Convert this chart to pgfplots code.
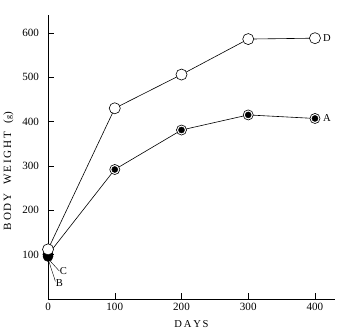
\documentclass[border=0pt]{standalone}
\usepackage{pgfplots}
\pgfplotsset{compat=1.18}
\usepackage{fontspec}
\setmainfont{Liberation Serif}
\begin{document}
\begin{tikzpicture}
\begin{axis}[
  scale only axis,
  width=285pt, height=282pt,
  xmin=0, xmax=430, ymin=0, ymax=640,
  axis x line*=bottom, axis y line*=left,
  xtick={0,100,200,300,400},
  ytick={100,200,300,400,500,600},
  tick align=inside,
  major tick length=6pt,
  tick style={black, line width=0.5pt},
  axis line style={line width=0.7pt},
  ticklabel style={font=\fontsize{11}{12}\selectfont},
  yticklabel style={xshift=-5.5pt},
  xticklabel style={yshift=-1pt},
  /pgf/number format/assume math mode=true,
  xlabel={\fontsize{10.5}{11}\selectfont D\,A\,Y\,S},
  ylabel={\fontsize{11}{12}\selectfont B\,O\,D\,Y\ \ \ W\,E\,I\,G\,H\,T\ \ \ ({\footnotesize g})},
  xlabel style={yshift=-2pt},
  ylabel style={yshift=2pt, xshift=-14pt},
  clip=false,
]
% Series A
\addplot[black, line width=0.6pt, mark=*, mark size=5pt, mark options={fill=white, draw=black, line width=0.6pt}]
  coordinates {(0,100) (100,292) (200,381) (300,415) (400,407)};
\addplot[only marks, mark=*, mark size=3pt, mark options={fill=black}]
  coordinates {(100,292) (200,381) (300,415) (400,407)};
% Series B and C
\addplot[only marks, mark=*, mark size=5pt, mark options={fill=black}]
  coordinates {(0,96) (0,101)};
% Series D
\addplot[black, line width=0.6pt, mark=*, mark size=5.5pt, mark options={fill=white, draw=black, line width=0.6pt}]
  coordinates {(0,112) (100,430) (200,506) (300,586) (400,588)};
\node[right, font=\fontsize{10.5}{11}\selectfont] at (axis cs:407,588) {D};
\node[right, font=\fontsize{10.5}{11}\selectfont] at (axis cs:407,407) {A};
\draw[black, line width=0.4pt] (axis cs:3,86) -- (axis cs:17,63);
\draw[black, line width=0.4pt] (axis cs:1,86) -- (axis cs:11,40);
\node[right, inner sep=1pt, font=\fontsize{10.5}{11}\selectfont] at (axis cs:16,63) {C};
\node[right, inner sep=1pt, font=\fontsize{10.5}{11}\selectfont] at (axis cs:10,37) {B};
\path (rel axis cs:0,1) -- ++(0pt,15pt);
\path (rel axis cs:1,0) -- ++(2pt,0pt);
\end{axis}
\end{tikzpicture}
\end{document}
